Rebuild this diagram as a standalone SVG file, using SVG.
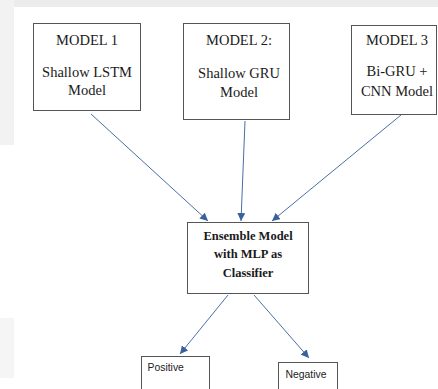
<svg xmlns="http://www.w3.org/2000/svg" width="438" height="389" viewBox="0 0 438 389">
<defs>
<style>
.box{fill:#fff;stroke:#555;stroke-width:1}
.t{font-family:"Liberation Serif","Times New Roman",serif;font-size:14.5px;fill:#1a1a1a;text-anchor:middle}
.tb{font-family:"Liberation Serif","Times New Roman",serif;font-size:12.5px;font-weight:bold;fill:#1a1a1a;text-anchor:middle}
.ts{font-family:"Liberation Sans",Arial,sans-serif;font-size:10.4px;fill:#222}
.c{stroke:#4a6fa5;stroke-width:1;fill:none;marker-end:url(#ah)}
</style>
<marker id="ah" viewBox="0 0 10 10" refX="10" refY="5" markerWidth="8" markerHeight="8" markerUnits="userSpaceOnUse" orient="auto">
<path d="M0,0 L10,5 L0,10 z" fill="#3a619c"/>
</marker>
</defs>
<rect x="0" y="0" width="438" height="389" fill="#fff"/>
<rect x="0" y="0" width="438" height="7" fill="#ececec"/>
<rect x="0" y="0" width="14" height="145" fill="#f2f2f2"/>
<rect x="0" y="318" width="14" height="60" fill="#f5f5f5"/>
<g id="connectors">
<line class="c" x1="91" y1="114" x2="208" y2="221"/>
<line class="c" x1="245" y1="121" x2="241" y2="221"/>
<line class="c" x1="401" y1="115" x2="272" y2="221"/>
<line class="c" x1="228" y1="295" x2="180" y2="354"/>
<line class="c" x1="254" y1="295" x2="309" y2="358"/>
</g>
<g id="model1">
<rect class="box" x="33.5" y="23.5" width="107" height="87"/>
<text class="t" x="87" y="45">MODEL 1</text>
<text class="t" x="87" y="77">Shallow LSTM</text>
<text class="t" x="87" y="95">Model</text>
</g>
<g id="model2">
<rect class="box" x="183.5" y="23.5" width="106" height="96"/>
<text class="t" x="239" y="45">MODEL 2:</text>
<text class="t" x="239" y="78">Shallow GRU</text>
<text class="t" x="239" y="97">Model</text>
</g>
<g id="model3">
<rect class="box" x="351.5" y="25.5" width="85" height="89"/>
<text class="t" x="397" y="45">MODEL 3</text>
<text class="t" x="397" y="76">Bi-GRU +</text>
<text class="t" x="397" y="96">CNN Model</text>
</g>
<g id="ensemble">
<rect class="box" x="187.5" y="222.5" width="121" height="71"/>
<text class="tb" x="248" y="240">Ensemble Model</text>
<text class="tb" x="248" y="258">with MLP as</text>
<text class="tb" x="248" y="277">Classifier</text>
</g>
<g id="positive">
<rect class="box" x="141.5" y="356.5" width="68" height="40"/>
<text class="ts" x="147.5" y="371">Positive</text>
</g>
<g id="negative">
<rect class="box" x="278.5" y="362.5" width="59" height="40"/>
<text class="ts" x="285.5" y="378">Negative</text>
</g>
</svg>
